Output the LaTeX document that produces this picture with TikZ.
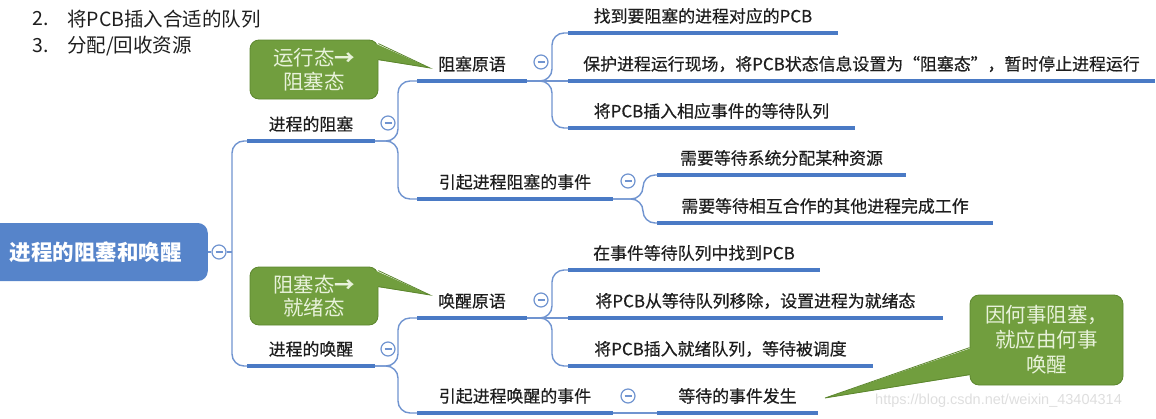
\documentclass[tikz,border=0pt]{standalone}
\usepackage{fontspec}
\setmainfont{Noto Sans CJK SC}
\newfontfamily\mmfont{Noto Sans CJK SC}[FakeBold=0.5]
\newfontfamily\wmfont{Liberation Sans}
\usetikzlibrary{calc}
\definecolor{ulblue}{RGB}{74,122,197}
\definecolor{brblue}{RGB}{112,148,208}
\definecolor{rootblue}{RGB}{86,132,202}
\definecolor{cgreen}{RGB}{113,158,62}
\definecolor{cgreenD}{RGB}{92,134,46}
\definecolor{ctext}{RGB}{232,242,218}
\definecolor{txtdark}{RGB}{30,30,30}
\definecolor{wmgray}{RGB}{222,222,222}

\newcommand\mmtopic[5]{%
  \coordinate (#1-s) at (#2,#4);
  \coordinate (#1-e) at (#3,#4);
  \draw[uline] (#1-s) -- (#1-e);
  \node[topic] (#1) at ({(#2+#3)/2},{#4-17}) {#5};
}
\newcommand\mmcollapse[3]{%
  \node[collapse] (#1) at (#2,#3) {};
  \draw[collapseline] ([xshift=-3.5pt]#1.center) -- ([xshift=3.5pt]#1.center);
}

\begin{document}
\begin{tikzpicture}[x=1pt,y=-1pt,
  uline/.style={draw=ulblue,line width=3.5pt},
  branch/.style={draw=brblue,line width=1.4pt,rounded corners=12pt},
  topic/.style={inner sep=0pt,text=txtdark,font=\mmfont\fontsize{16.9}{20}\selectfont},
  collapse/.style={circle,draw=brblue,fill=white,line width=1.2pt,minimum size=14pt,inner sep=0pt},
  collapseline/.style={draw=brblue,line width=1.2pt},
  rootbox/.style={rectangle,rounded corners=10pt,fill=rootblue,text=white,
     font=\fontsize{21.5}{24}\selectfont\bfseries,minimum height=58pt,minimum width=228pt,inner sep=0pt},
  callout/.style={rectangle,rounded corners=9pt,fill=cgreen,draw=cgreenD,line width=0.8pt,
     text=ctext,align=center,inner sep=0pt,font=\fontsize{20.5}{23.5}\selectfont},
  cfill/.style={fill=cgreen},
  cedge/.style={draw=cgreenD,line width=0.8pt},
  listtxt/.style={inner sep=0pt,text=txtdark,font=\fontsize{19.5}{22}\selectfont},
  wm/.style={inner sep=0pt,text=wmgray,font=\wmfont\fontsize{14.5}{16}\selectfont}
]
\useasboundingbox (0,0) rectangle (1156,418);
\clip (0,0) rectangle (1156,418);

% top-left list
\node[listtxt,anchor=west] (l2n) at (32,19) {2.};
\node[listtxt,anchor=west] (l2) at (67,19) {将PCB插入合适的队列};
\node[listtxt,anchor=west] (l3n) at (32,46) {3.};
\node[listtxt,anchor=west] (l3) at (67,46) {分配/回收资源};

% root
\node[rootbox,anchor=east] (root) at (208,252) {\hspace*{4pt}进程的阻塞和唤醒};
\mmcollapse{rootc}{219}{252}
\draw[branch] (root.east) -- (rootc.west);

% level 1
\mmtopic{zs}{247}{375}{141}{进程的阻塞}
\mmtopic{hx}{247}{375}{366}{进程的唤醒}
\coordinate (j0) at (232,252);
\draw[branch] (zs-s) -- ++(-15,0) |- (hx-s);
\draw[branch] (rootc.east) -- (j0);

% level 2
\mmtopic{zsyy}{417}{527}{81}{阻塞原语}
\mmtopic{zsev}{417}{613}{199}{引起进程阻塞的事件}
\mmtopic{hxyy}{417}{527}{318}{唤醒原语}
\mmtopic{hxev}{417}{613}{413}{引起进程唤醒的事件}
\draw[branch] (zs-e) -- ++(23,0) |- (zsyy-s);
\draw[branch] (zs-e) -- ++(23,0) |- (zsev-s);
\draw[branch] (hx-e) -- ++(23,0) |- (hxyy-s);
\draw[branch] (hx-e) -- ++(23,0) |- (hxev-s);

% level 3
\mmtopic{a1}{568}{838}{33}{找到要阻塞的进程对应的PCB}
\mmtopic{a2}{568}{1155}{81}{保护进程运行现场，将PCB状态信息设置为“阻塞态”，暂时停止进程运行}
\mmtopic{a3}{568}{855}{128}{将PCB插入相应事件的等待队列}
\mmtopic{b1}{657}{906}{175}{需要等待系统分配某种资源}
\mmtopic{b2}{657}{993}{223}{需要等待相互合作的其他进程完成工作}
\mmtopic{c1}{568}{820}{270}{在事件等待队列中找到PCB}
\mmtopic{c2}{568}{943}{318}{将PCB从等待队列移除，设置进程为就绪态}
\mmtopic{c3}{568}{873}{366}{将PCB插入就绪队列，等待被调度}
\mmtopic{d1}{657}{818}{413}{等待的事件发生}

\draw[branch] (zsyy-e) -- ++(25,0) |- (a1-s);
\draw[branch] (zsyy-e) -- (a2-s);
\draw[branch] (zsyy-e) -- ++(25,0) |- (a3-s);
\draw[branch] (zsev-e) -- ++(30,0) |- (b1-s);
\draw[branch] (zsev-e) -- ++(30,0) |- (b2-s);
\draw[branch] (hxyy-e) -- ++(25,0) |- (c1-s);
\draw[branch] (hxyy-e) -- (c2-s);
\draw[branch] (hxyy-e) -- ++(25,0) |- (c3-s);
\draw[branch] (hxev-e) -- (d1-s);

% collapse markers
\mmcollapse{zsc}{388}{123}
\mmcollapse{hxc}{388}{349}
\mmcollapse{zsyyc}{541}{62}
\mmcollapse{zsevc}{628}{181}
\mmcollapse{hxyyc}{541}{300}
\mmcollapse{hxevc}{628}{396}

% callouts
\node[callout,minimum width=128pt,minimum height=59pt] (cb1) at (314,69.5) {运行态\textbf{→}\\阻塞态};
\coordinate (t1) at (430,68);
\fill[cfill] ([xshift=-3pt,yshift=-4pt]cb1.north east) -- (t1) -- ([xshift=-3pt,yshift=-20pt]cb1.north east) -- cycle;
\draw[cedge] ([yshift=-4pt]cb1.north east) -- (t1) -- ([yshift=-20pt]cb1.north east);

\node[callout,minimum width=128pt,minimum height=58pt] (cb2) at (314,296) {阻塞态\textbf{→}\\就绪态};
\coordinate (t2) at (430,295);
\fill[cfill] ([xshift=-3pt,yshift=-4pt]cb2.north east) -- (t2) -- ([xshift=-3pt,yshift=-20pt]cb2.north east) -- cycle;
\draw[cedge] ([yshift=-4pt]cb2.north east) -- (t2) -- ([yshift=-20pt]cb2.north east);

\node[callout,minimum width=153pt,minimum height=90pt,font=\fontsize{20.5}{25}\selectfont] (cb3) at (1046.5,340) {因何事阻塞，\\就应由何事\\唤醒};
\coordinate (t3) at (825,398);
\fill[cfill] ([xshift=3pt,yshift=-53pt]cb3.north west) -- (t3) -- ([xshift=3pt,yshift=-80pt]cb3.north west) -- cycle;
\draw[cedge] ([yshift=-53pt]cb3.north west) -- (t3) -- ([yshift=-80pt]cb3.north west);

% watermark
\node[wm,anchor=west] (wm) at (875,401) {https://blog.csdn.net/weixin\_43404314};
\end{tikzpicture}
\end{document}
